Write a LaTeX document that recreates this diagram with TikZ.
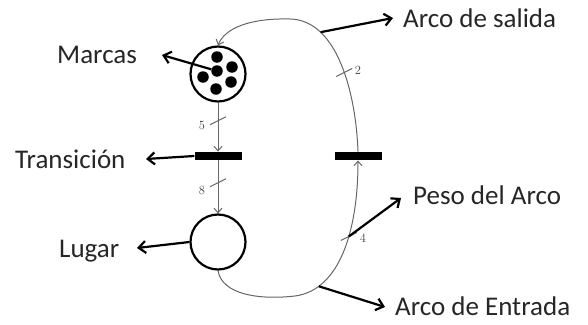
\documentclass[tikz,border=0pt]{standalone}
\usepackage{fontspec}
\usepackage{tikz}
\usetikzlibrary{arrows.meta}
\newfontfamily\labelfont{Carlito}

\begin{document}
\begin{tikzpicture}[x=1pt,y=-1pt,
  place/.style={circle,draw,line width=2.2pt,minimum size=55pt,inner sep=0pt},
  trans/.style={rectangle,fill=black,minimum width=47pt,minimum height=8.5pt,inner sep=0pt},
  token/.style={circle,fill=black,minimum size=11.5pt,inner sep=0pt},
  arc/.style={draw=black!60,line width=1pt,-{Straight Barb[length=4.5pt,width=8pt]}},
  tick/.style={draw=black!60,line width=1pt},
  callout/.style={line width=2.2pt,-{Straight Barb[length=7pt,width=12pt]}},
  lbl/.style={font=\labelfont\fontsize{27}{30}\selectfont,text=black!85,inner sep=0pt,anchor=base west},
  wt/.style={font=\fontsize{12.5}{14}\selectfont,text=black!75,inner sep=0pt}]
\useasboundingbox (0,0) rectangle (588,324);
% places and transitions
\node[place] (p1) at (218,74) {};
\node[place] (p2) at (218,242) {};
\node[trans] (t1) at (218,156) {};
\node[trans] (t2) at (358,156) {};
\node[token] (tok0) at (217,71) {};
\foreach \dx/\dy [count=\i] in {0/-14,15/-4,14/11,-1/18,-14/6}
  \node[token] (tok\i) at (217+\dx,71+\dy) {};
% arcs
\draw[arc] (p1) -- (t1) coordinate[pos=0.37] (w5);
\draw[arc] (t1) -- (p2) coordinate[pos=0.42] (w8);
\draw[arc] (p2.south) .. controls (222,295) and (260,300) .. (295,296)
  .. controls (340,290) and (358,230) .. (t2.south)
  coordinate[pos=0.2] (ent) coordinate[pos=0.6] (w4);
\draw[arc] (t2.north) .. controls (356,95) and (338,20) .. (290,19)
  coordinate[pos=0.75] (sal) coordinate[pos=0.45] (w2)
  .. controls (250,18) and (225,28) .. (p1.north);
% weights
\foreach \w in {w5,w8,w4,w2}
  \draw[tick] ([shift={(-8,4)}]\w) -- ([shift={(8,-4)}]\w);
\node[wt] (n5) at (202,125) {5};
\node[wt] (n8) at (202,190) {8};
\node[wt] (n2) at (358,70) {2};
\node[wt] (n4) at (363,238) {4};
% labels
\node[lbl] (marcas) at (57,63) {Marcas};
\node[lbl] (transicion) at (15,168) {Transición};
\node[lbl] (lugar) at (59,257) {Lugar};
\node[lbl] (salida) at (403,27) {Arco de salida};
\node[lbl] (peso) at (413,204) {Peso del Arco};
\node[lbl] (entrada) at (395,315) {Arco de Entrada};
\coordinate (marcasTip) at (162,55);
\coordinate (transTip) at (146,159);
\coordinate (lugarTip) at (137,248);
\coordinate (salidaTip) at (393,18);
\coordinate (pesoTip) at (401,198);
\coordinate (entradaTip) at (385,307);
\draw[callout] (tok0) -- (marcasTip);
\draw[callout] (t1.west) -- (transTip);
\draw[callout] (p2.west) -- (lugarTip);
\draw[callout] (sal) -- (salidaTip);
\draw[callout] (w4) -- (pesoTip);
\draw[callout] (ent) -- (entradaTip);
\end{tikzpicture}
\end{document}
